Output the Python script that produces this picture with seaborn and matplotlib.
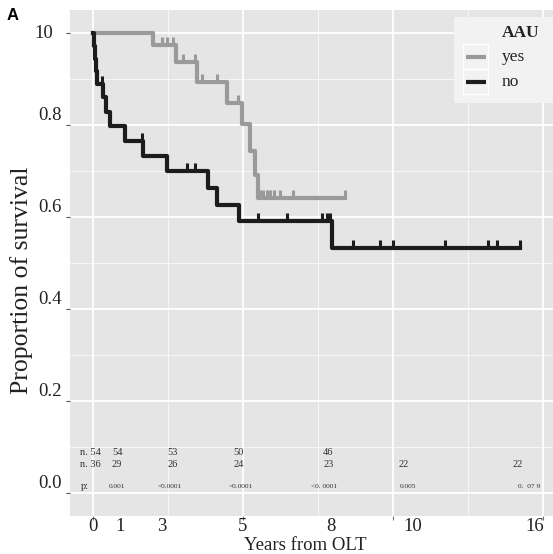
import numpy as np
import pandas as pd
import matplotlib
matplotlib.use("Agg")
import matplotlib.pyplot as plt
import matplotlib.transforms as mtransforms
from matplotlib.path import Path
from matplotlib.patches import Rectangle
import seaborn as sns

# ---------------- data ----------------
groups = ["yes", "no"]
legend_title = "AAU"
yes_time = [0, 2.0, 2.77, 3.47, 4.47, 4.97, 5.23, 5.4, 5.5, 8.4]
yes_surv = [1.0, 0.974, 0.937, 0.893, 0.848, 0.802, 0.743, 0.691, 0.642, 0.642]
yes_censor = [2.3, 2.47, 2.67, 3.0, 3.4, 3.63, 4.13, 4.83, 5.57, 5.67, 5.8, 5.9,
              6.03, 6.23, 6.67, 8.4]
no_time = [0, 0.03, 0.07, 0.1, 0.14, 0.33, 0.43, 0.57, 1.07, 1.67, 2.47, 3.83,
           4.13, 4.87, 7.97, 14.23]
no_surv = [1.0, 0.972, 0.944, 0.917, 0.889, 0.86, 0.828, 0.798, 0.765, 0.733,
           0.70, 0.663, 0.626, 0.591, 0.533, 0.533]
no_censor = [0.3, 1.63, 3.13, 3.4, 5.5, 6.47, 7.63, 7.8, 7.9, 8.67, 9.57, 10.0,
             11.73, 13.17, 13.47, 14.23]

y_ticks = [0.0, 0.2, 0.4, 0.6, 0.8, 1.0]
y_ticklabels = ["0.0", "0.2", "0.4", "0.6", "0.8", "10"]
x_grid_major = [0, 5, 10, 15]
x_grid_minor = [2.5, 7.5, 12.5]
x_labels = ["0", "1", "3", "5", "8", "10", "16"]
x_label_pos = [0, 0.9, 2.3, 5, 7.93, 10.67, 14.73]

risk_yes = ["54", "53", "50", "46"]
risk_yes_pos = [0.63, 2.47, 4.67, 7.67]
risk_no = ["29", "26", "24", "23", "22", "22"]
risk_no_pos = [0.63, 2.47, 4.67, 7.67, 10.17, 13.97]
pvals = ["0.001", "<0.0001", "<0.0001", "<0. 0001", "0.005", "0.  07 9"]
pval_pos = [0.8, 2.57, 4.93, 7.7, 10.5, 14.53]

colors = {"yes": "#9a9a9a", "no": "#1c1c1c"}

# ---------------- figure ----------------
serif = ["Liberation Serif", "DejaVu Serif"]
W, H = 553, 554
PL, PR, PT, PB = 70, 553, 10, 516
fig = plt.figure(figsize=(W / 100, H / 100), dpi=100)
ax = fig.add_axes([PL / W, (H - PB) / H, (PR - PL) / W, (PB - PT) / H])
ax.set_facecolor("#e5e5e5")
for s in ax.spines.values():
    s.set_visible(False)

ax.set_xlim(-0.767, 15.33)
ax.set_ylim(-0.05, 1.05)

ax.set_xticks(x_grid_major)
ax.set_xticks(x_grid_minor, minor=True)
ax.set_yticks(y_ticks)
ax.set_yticks([0.1, 0.3, 0.5, 0.7, 0.9], minor=True)
ax.grid(which="major", color="white", linewidth=1.3)
ax.grid(which="minor", color="white", linewidth=0.6, alpha=0.8)
ax.set_axisbelow(True)
ax.tick_params(axis="x", which="major", length=3, color="#777777", labelbottom=False)
ax.tick_params(axis="y", which="major", length=3, color="#555555", labelleft=False)
ax.tick_params(which="minor", length=0)

# curves
df = pd.concat([
    pd.DataFrame({"time": yes_time, "surv": yes_surv, "AAU": "yes"}),
    pd.DataFrame({"time": no_time, "surv": no_surv, "AAU": "no"}),
])
sns.lineplot(data=df, x="time", y="surv", hue="AAU", hue_order=groups,
             palette=colors, estimator=None, sort=False, drawstyle="steps-post",
             linewidth=3.0, legend=False, ax=ax)

tick_marker = Path([(0, 0), (0, 1)], [Path.MOVETO, Path.LINETO])
for g, tt, ss, cc in [("yes", yes_time, yes_surv, yes_censor),
                      ("no", no_time, no_surv, no_censor)]:
    tt = np.asarray(tt)
    ss = np.asarray(ss)
    cy = ss[np.searchsorted(tt, cc, side="right") - 1]
    ax.plot(cc, cy, linestyle="none", marker=tick_marker, markersize=12,
            markeredgewidth=2.2, color=colors[g])

# y tick labels
tr_y = mtransforms.blended_transform_factory(ax.transAxes, ax.transData)
for v, lab in zip(y_ticks, y_ticklabels):
    if lab == "10":
        dx, dy = -17, 0
    else:
        dx, dy = -8, 9.5
    off = mtransforms.ScaledTranslation(dx / 100, dy / 100, fig.dpi_scale_trans)
    ax.text(0, v, lab, transform=tr_y + off, ha="right", va="center",
            fontsize=13.5, family=serif, color="#222222")

# x tick labels
tr_x = mtransforms.blended_transform_factory(ax.transData, ax.transAxes)
offx = mtransforms.ScaledTranslation(0, -2 / 100, fig.dpi_scale_trans)
for p, lab in zip(x_label_pos, x_labels):
    ax.text(p, 0, lab, transform=tr_x + offx, ha="center", va="top",
            fontsize=13.5, family=serif, color="#222222")


def axc(px, py):
    return ((px - PL) / (PR - PL), (PB - py) / (PB - PT))


ax.text(*axc(305, 545), "Years from OLT", transform=ax.transAxes, ha="center",
        va="center", fontsize=13.5, family=serif, color="#222222")
ax.text(*axc(22, 280), "Proportion of survival", transform=ax.transAxes,
        rotation=90, ha="center", va="center", fontsize=18.5, family=serif,
        color="#222222")

# risk table
tcol = "#333333"
ax.text(-0.43, 0.089, "n. 54", ha="left", va="center", fontsize=7.5, family=serif, color=tcol)
ax.text(-0.43, 0.061, "n. 36", ha="left", va="center", fontsize=7.5, family=serif, color=tcol)
ax.text(-0.4, 0.015, "p:", ha="left", va="center", fontsize=7.5, family=serif, color=tcol)
for p, lab in zip(risk_yes_pos, risk_yes):
    ax.text(p, 0.089, lab, ha="left", va="center", fontsize=7.5, family=serif, color=tcol)
for p, lab in zip(risk_no_pos, risk_no):
    ax.text(p, 0.061, lab, ha="left", va="center", fontsize=7.5, family=serif, color=tcol)
for p, lab in zip(pval_pos, pvals):
    ax.text(p, 0.015, lab, ha="center", va="center", fontsize=5.3, family=serif, color=tcol)

# legend (ggplot-like box)
x0, y0 = axc(454, 103)
x1, y1 = axc(553, 17)
ax.add_patch(Rectangle((x0, y0), x1 - x0, y1 - y0, transform=ax.transAxes,
                       facecolor="#f2f2f2", edgecolor="none", zorder=5))
ax.text(*axc(502, 33), legend_title, transform=ax.transAxes, ha="left",
        va="center", fontsize=12.5, weight="bold", family=serif,
        color="#222222", zorder=6)
for i, g in enumerate(groups):
    ktop = 44 + i * 25
    kx0, ky0 = axc(463, ktop + 25)
    kx1, ky1 = axc(488, ktop)
    ax.add_patch(Rectangle((kx0, ky0), kx1 - kx0, ky1 - ky0, transform=ax.transAxes,
                           facecolor="#f2f2f2", edgecolor="white", linewidth=1.0,
                           zorder=6))
    lx0, ly = axc(466, ktop + 13)
    lx1, _ = axc(486, ktop + 13)
    ax.plot([lx0, lx1], [ly, ly], transform=ax.transAxes, color=colors[g],
            linewidth=3.0, solid_capstyle="butt", zorder=7)
    ax.text(*axc(502, ktop + 13), g, transform=ax.transAxes, ha="left",
            va="center", fontsize=12.5, family=serif, color="#222222", zorder=7)

fig.text(0.012, 0.985, "A", ha="left", va="top", fontsize=12, weight="bold",
         family=["Liberation Sans", "DejaVu Sans"])

fig.savefig("out.png", dpi=100)
